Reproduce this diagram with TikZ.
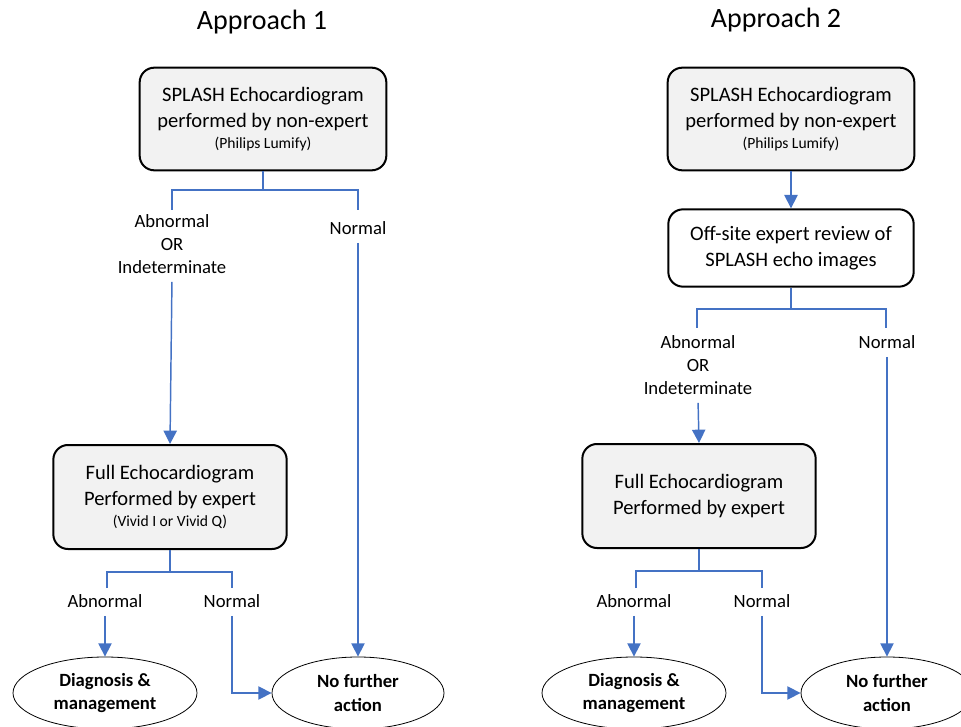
\documentclass[tikz,border=0pt]{standalone}
\usepackage{fontspec}
\setmainfont{Carlito}
\usetikzlibrary{arrows.meta,shapes.geometric}
\definecolor{linkblue}{HTML}{4472C4}
\definecolor{boxgrey}{HTML}{F2F2F2}
\newcommand{\boxfont}{\fontsize{15.4}{19.6}\selectfont}
\newcommand{\lblfont}{\fontsize{14}{17.3}\selectfont}
\newcommand{\smallfont}{\fontsize{11.7}{13}\selectfont}
\tikzset{
  stepbox/.style={draw, line width=1.5pt, rounded corners=11pt, align=center, font=\boxfont, inner sep=2pt},
  greybox/.style={stepbox, fill=boxgrey},
  outcome/.style={draw, ellipse, line width=0.6pt, inner sep=0pt, align=center, font=\lblfont\bfseries},
  lbl/.style={align=center, font=\lblfont, inner sep=3pt},
  link/.style={draw=linkblue, line width=1.1pt},
  arrow/.style={link, -{Triangle[width=10pt,length=10pt]}, shorten <=3pt},
  title/.style={font=\fontsize{21}{25}\selectfont}
}
\begin{document}
\begin{tikzpicture}[x=0.75pt, y=-0.75pt]
  \useasboundingbox (0,0) rectangle (961,727);

  % Approach 1
  \node[title] (t1) at (262,22) {Approach 1};
  \node[greybox, minimum width=185pt, minimum height=77pt] (echo1) at (263,119)
    {SPLASH Echocardiogram\\performed by non-expert\\[-4pt]{\smallfont (Philips Lumify)}};
  \node[lbl] (abn1) at (172,244) {Abnormal\\OR\\Indeterminate};
  \node[lbl] (nor1) at (358,228) {Normal};
  \node[greybox, minimum width=175pt, minimum height=78pt] (full1) at (170,497)
    {Full Echocardiogram\\Performed by expert\\[-4pt]{\smallfont (Vivid I or Vivid Q)}};
  \node[lbl] (abnB1) at (105,601) {Abnormal};
  \node[lbl] (norB1) at (232,601) {Normal};
  \node[outcome, minimum width=138pt, minimum height=54pt] (diag1) at (105,693) {Diagnosis \&\\management};
  \node[outcome, minimum width=129pt, minimum height=54pt] (nfa1) at (358,693) {No further\\action};

  \coordinate (j1) at (263,190);
  \coordinate (a1) at (172,210);
  \coordinate (n1) at (358,210);
  \draw[link] (echo1.south) -- (j1);
  \draw[link] (a1) |- (j1) -| (n1);
  \draw[arrow] (abn1.south) -- (full1.north);
  \draw[arrow] (nor1.south) -- (nfa1.north);

  \coordinate (j2) at (170,572);
  \coordinate (a2) at (107,588);
  \coordinate (n2) at (232,588);
  \draw[link] (full1.south) -- (j2);
  \draw[link] (a2) |- (j2) -| (n2);
  \draw[arrow] (abnB1.south) -- (diag1.north);
  \draw[arrow] (norB1.south) |- (nfa1.west);

  % Approach 2
  \node[title] (t2) at (776,20) {Approach 2};
  \node[greybox, minimum width=185pt, minimum height=77pt] (echo2) at (791,119)
    {SPLASH Echocardiogram\\performed by non-expert\\[-4pt]{\smallfont (Philips Lumify)}};
  \node[stepbox, minimum width=184pt, minimum height=58pt] (rev2) at (791,248)
    {Off-site expert review of\\SPLASH echo images};
  \node[lbl] (abn2) at (698,365) {Abnormal\\OR\\Indeterminate};
  \node[lbl] (nor2) at (887,342) {Normal};
  \node[greybox, minimum width=175pt, minimum height=78pt] (full2) at (699,496)
    {Full Echocardiogram\\Performed by expert};
  \node[lbl] (abnB2) at (634,601) {Abnormal};
  \node[lbl] (norB2) at (762,601) {Normal};
  \node[outcome, minimum width=138pt, minimum height=54pt] (diag2) at (634,693) {Diagnosis \&\\management};
  \node[outcome, minimum width=129pt, minimum height=54pt] (nfa2) at (887,693) {No further\\action};

  \draw[arrow, shorten <=0pt] (echo2.south) -- (rev2.north);
  \coordinate (j3) at (791,309);
  \coordinate (a3) at (697,328);
  \coordinate (n3) at (886,328);
  \draw[link] (rev2.south) -- (j3);
  \draw[link] (a3) |- (j3) -| (n3);
  \draw[arrow] (abn2.south) -- (full2.north);
  \draw[arrow] (nor2.south) -- (nfa2.north);

  \coordinate (j4) at (699,571);
  \coordinate (a4) at (636,588);
  \coordinate (n4) at (762,588);
  \draw[link] (full2.south) -- (j4);
  \draw[link] (a4) |- (j4) -| (n4);
  \draw[arrow] (abnB2.south) -- (diag2.north);
  \draw[arrow] (norB2.south) |- (nfa2.west);
\end{tikzpicture}
\end{document}
